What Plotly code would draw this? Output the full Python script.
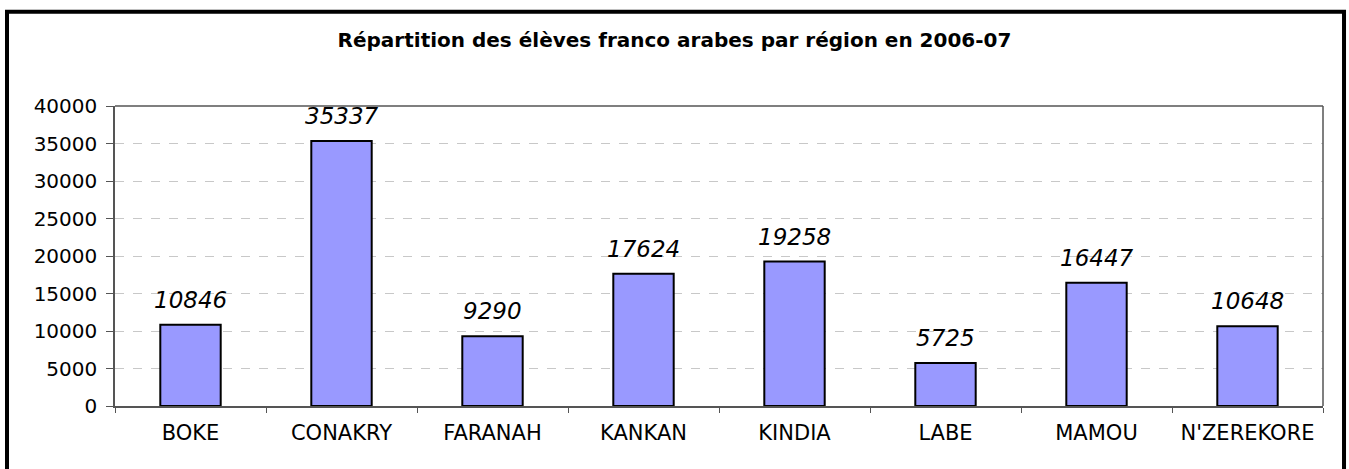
import plotly.graph_objects as go

regions = ["BOKE", "CONAKRY", "FARANAH", "KANKAN", "KINDIA", "LABE", "MAMOU", "N'ZEREKORE"]
eleves = [10846, 35337, 9290, 17624, 19258, 5725, 16447, 10648]
y_ticks = [0, 5000, 10000, 15000, 20000, 25000, 30000, 35000, 40000]

FONT = "DejaVu Sans, Arial"

fig = go.Figure()
fig.add_trace(go.Bar(
    x=regions, y=eleves, width=0.4,
    marker=dict(color="#9999FF", line=dict(color="black", width=2)),
    hoverinfo="x+y",
))

# value labels above the bars (italic)
for r, v in zip(regions, eleves):
    fig.add_annotation(x=r, y=v, text=str(v), showarrow=False,
                       yanchor="bottom", yshift=10,
                       font=dict(family=FONT, size=23, color="black", style="italic"))

fig.update_layout(
    width=1349, height=469,
    margin=dict(l=115, r=26, t=106, b=63),
    paper_bgcolor="white", plot_bgcolor="white",
    font=dict(family=FONT, color="black"),
    title=dict(text="<b>Répartition des élèves franco arabes par région en 2006-07</b>",
               x=0.5, xref="container", xanchor="center", y=0.915, yanchor="middle",
               font=dict(size=20, color="black")),
    showlegend=False,
)
fig.update_yaxes(
    range=[0, 40000], tickvals=y_ticks, ticktext=[str(t) for t in y_ticks],
    ticks="outside", ticklen=7, tickcolor="#555", ticklabelstandoff=5,
    showline=True, linecolor="#555", linewidth=1.5,
    showgrid=True, gridcolor="#c8c8c8", griddash="dash", gridwidth=1,
    tickfont=dict(size=20), zeroline=False,
)
fig.update_xaxes(
    tickson="boundaries", ticks="outside", ticklen=5, tickcolor="#555",
    ticklabelstandoff=7,
    showline=True, linecolor="#555", linewidth=1.5,
    tickfont=dict(size=21),
)
# top and right edges of the plot area
fig.add_shape(type="line", xref="paper", yref="paper", x0=1, x1=1, y0=0, y1=1,
              line=dict(color="#555", width=1.5))
fig.add_shape(type="line", xref="paper", yref="paper", x0=0, x1=1, y0=1, y1=1,
              line=dict(color="#555", width=1.5))
# outer chart frame
fig.add_shape(type="rect", xref="paper", yref="paper",
              x0=-0.0894, x1=1.0174, y0=-0.25, y1=1.3144,
              line=dict(color="black", width=4), layer="above")

fig.write_html("out.html", config={"displayModeBar": False},
               post_script="document.body.style.margin='0';")
